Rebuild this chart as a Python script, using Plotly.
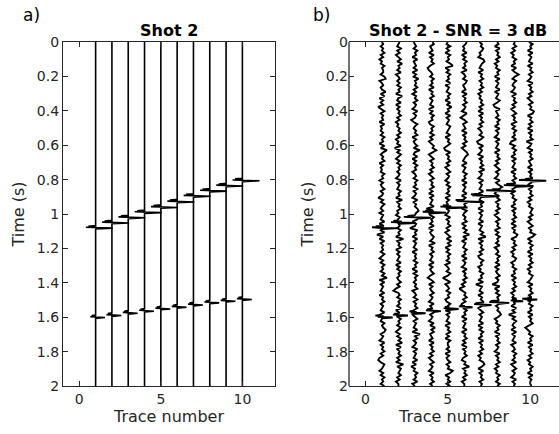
import numpy as np
import plotly.graph_objects as go

# ---------------- data ----------------
trace_numbers = [1, 2, 3, 4, 5, 6, 7, 8, 9, 10]
event1_times = [1.080, 1.050, 1.020, 0.990, 0.960, 0.928, 0.895, 0.865, 0.835, 0.805]
event2_times = [1.600, 1.588, 1.575, 1.563, 1.550, 1.540, 1.527, 1.515, 1.505, 1.495]
event1_amp = 1.0
event2_amp = 0.55
wavelet_offsets = [-0.013, -0.009, -0.006, -0.003, 0.002, 0.007]
wavelet_values = [0.0, -0.45, 0.05, -0.6, 1.05, 0.0]

# noise samples (digit 4 = zero)
noise_scale = 0.075
noise_strings = [
    "45354635243645536724" "53473625351463545263" "43536452638535462534" "36452534635415364352"
    "54362543605263545364" "25364536482635436254" "63543625436457635426" "35463521365425364536",
    "54363524637453624535" "36452743625354635243" "54635243615364253645" "35426354364527354634"
    "25364536452835462535" "43625364534635204536" "45362543645364253647" "26354635283654635244",
    "34536452634536253745" "46352546354263541364" "35462534638436253645" "24536453635426354675"
    "43625406452635436254" "53645263645354624536" "35463524635436284635" "42635436251436453624",
    "56345263546312453645" "36254635436253645236" "45363524658524635463" "52463546352635436052"
    "36453625346537254635" "43625346314625346354" "26354635426374634526" "35463524635426354635",
    "43635264536825364536" "25436452637452635436" "54362546312635463524" "63542536453625346354"
    "26354635246374625364" "53624536403624536452" "36452635436254635264" "45362534635486254636",
    "65343625364536245365" "34526354635426314634" "52635463524675436254" "36452635436253645264"
    "35462536483625436452" "63542635463524035463" "52436452635436254635" "26354632548354635244",
    "35465342675436254635" "46352435463526354635" "24536412635426354637" "35426354362543645263"
    "54362543648263546352" "36452436452605436254" "63524635436253645263" "54635243675263546354",
    "45263546352436452635" "43625436412634536452" "63542635436254635246" "35426358632546354635"
    "24635462536453624536" "45362534635406253645" "26354675243645263546" "35426354635243645364",
    "54635243645263585364" "35426354635246354625" "36453621536452635436" "25463546352436452635"
    "46352635476254635243" "65243645263546352436" "45263505364352635436" "24536453624635426354",
    "36452635436254635426" "35463524635476254635" "26354615426354634526" "35463526354635243654"
    "63524635486253645263" "54635243654263546352" "43645263546302436452" "63546352436452635445",
]

t_min, t_max = 0.0, 2.0
y_tick_vals = [0, 0.2, 0.4, 0.6, 0.8, 1.0, 1.2, 1.4, 1.6, 1.8, 2.0]
y_tick_text = ["0", "0.2", "0.4", "0.6", "0.8", "1", "1.2", "1.4", "1.6", "1.8", "2"]
x_tick_vals = [0, 5, 10]

FONT = "DejaVu Sans"
AX = "#262626"

fig = go.Figure()

# ---------------- panel a: clean traces ----------------
for i, xn in enumerate(trace_numbers):
    ts = [t_min]
    xs = [xn]
    for et, amp in ((event1_times[i], event1_amp), (event2_times[i], event2_amp)):
        for off, w in zip(wavelet_offsets, wavelet_values):
            ts.append(et + off)
            xs.append(xn + amp * w)
    ts.append(t_max)
    xs.append(xn)
    fig.add_trace(go.Scatter(x=xs, y=ts, mode="lines", xaxis="x", yaxis="y",
                             line=dict(color="black", width=1.6),
                             showlegend=False, hoverinfo="skip"))

# ---------------- panel b: noisy traces ----------------
for i, xn in enumerate(trace_numbers):
    s = noise_strings[i]
    n = len(s)
    nt = np.linspace(t_min, t_max, n)
    nv = [(int(c) - 4) * noise_scale for c in s]
    pts = [(nt[k], nv[k]) for k in range(n)]
    for et, amp in ((event1_times[i], event1_amp), (event2_times[i], event2_amp)):
        for off, w in zip(wavelet_offsets, wavelet_values):
            tt = et + off
            k = int(np.argmin(np.abs(nt - tt)))
            pts.append((tt, nv[k] + amp * w))
    pts.sort(key=lambda p: p[0])
    fig.add_trace(go.Scatter(x=[xn + p[1] for p in pts], y=[p[0] for p in pts],
                             mode="lines", xaxis="x2", yaxis="y2",
                             line=dict(color="black", width=1.9),
                             showlegend=False, hoverinfo="skip"))

W, H = 559, 434
def px_x(p):
    return p / W
def px_y(p):
    return 1 - p / H

tickfont = dict(family=FONT, size=14, color=AX)
titlefont = dict(family=FONT, size=16, color=AX)

common_x = dict(tickvals=x_tick_vals, ticks="inside", ticklen=5, tickwidth=1, tickcolor=AX,
                showline=True, linecolor=AX, linewidth=1.3, showgrid=False, zeroline=False,
                automargin=False,
                tickfont=tickfont, title=dict(text="Trace number", font=titlefont, standoff=4))
common_y = dict(range=[t_max, t_min], tickvals=y_tick_vals, ticktext=y_tick_text,
                ticks="inside", ticklen=5, tickwidth=1, tickcolor=AX,
                showgrid=False, zeroline=False, tickfont=tickfont, automargin=False,
                title=dict(text="Time (s)", font=titlefont, standoff=8))

y_dom = [px_y(386), px_y(42)]

fig.update_layout(
    width=W, height=H,
    margin=dict(l=0, r=0, t=0, b=0, autoexpand=False),
    paper_bgcolor="white", plot_bgcolor="white",
    font=dict(family=FONT, color=AX),
    xaxis=dict(domain=[px_x(63), px_x(275)], range=[-1, 12], anchor="y", mirror="ticks", **common_x),
    yaxis=dict(domain=y_dom, anchor="x", showline=True, linecolor=AX, linewidth=1.3,
               mirror="ticks", **common_y),
    xaxis2=dict(domain=[px_x(349), 1.0], range=[-1, 11.75], anchor="y2", mirror="ticks", **common_x),
    yaxis2=dict(domain=y_dom, anchor="x2", showline=False, mirror="ticks", **common_y),
    shapes=[dict(type="line", xref="x2 domain", yref="y2 domain", x0=0, x1=0, y0=0, y1=1,
                 line=dict(color=AX, width=1.3))],
    annotations=[
        dict(text="<b>Shot 2</b>", x=px_x(169), y=px_y(30), xref="paper", yref="paper",
             xanchor="center", yanchor="middle", showarrow=False,
             font=dict(family=FONT, size=16, color="black")),
        dict(text="<b>Shot 2 - SNR = 3 dB</b>", x=px_x(458), y=px_y(30), xref="paper", yref="paper",
             xanchor="center", yanchor="middle", showarrow=False,
             font=dict(family=FONT, size=16, color="black")),
        dict(text="a)", x=px_x(21), y=px_y(15), xref="paper", yref="paper",
             xanchor="left", yanchor="middle", showarrow=False,
             font=dict(family=FONT, size=17, color="black")),
        dict(text="b)", x=px_x(311), y=px_y(15), xref="paper", yref="paper",
             xanchor="left", yanchor="middle", showarrow=False,
             font=dict(family=FONT, size=17, color="black")),
    ],
)

fig.write_html("out.html", config={"displayModeBar": False},
               post_script="document.body.style.margin='0px';document.body.style.overflow='hidden';")
